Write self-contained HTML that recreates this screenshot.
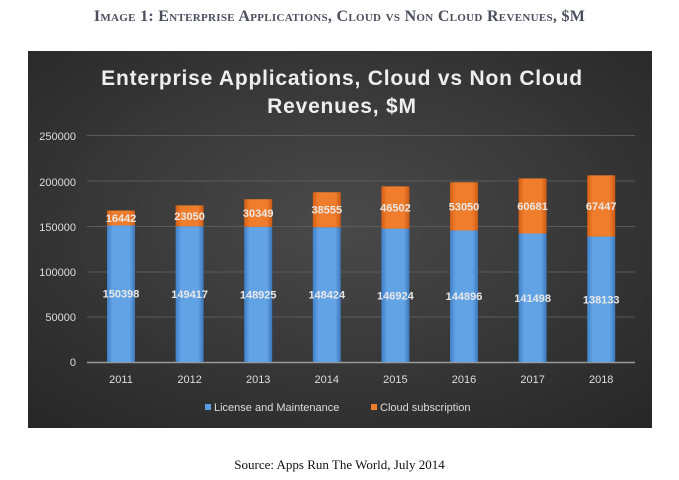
<!DOCTYPE html>
<html><head><style>
body{margin:0;width:679px;height:480px;background:#fff;position:relative;overflow:hidden;font-family:"Liberation Sans",sans-serif}
.hd{position:absolute;top:8px;left:0;width:679px;text-align:center;font-family:"Liberation Serif",serif;font-weight:bold;font-size:16px;color:#4b4f5e;font-variant:small-caps;letter-spacing:0.3px}
.src{position:absolute;top:457px;left:0;width:679px;text-align:center;font-family:"Liberation Serif",serif;font-size:13px;color:#111}
</style></head><body>
<div class="hd">Image 1: Enterprise Applications, Cloud vs Non Cloud Revenues, $M</div>
<svg style="position:absolute;left:0;top:0" width="679" height="480">
<defs>
<radialGradient id="bg" cx="0.5" cy="0.45" r="0.75">
<stop offset="0" stop-color="#4a4a4a"/><stop offset="1" stop-color="#262626"/></radialGradient>
<linearGradient id="bl" x1="0" x2="1"><stop offset="0" stop-color="#3f7fc6"/><stop offset="0.2" stop-color="#62a3e6"/><stop offset="0.8" stop-color="#62a3e6"/><stop offset="1" stop-color="#3c78bb"/></linearGradient>
<linearGradient id="or" x1="0" x2="1"><stop offset="0" stop-color="#d45f14"/><stop offset="0.2" stop-color="#f07d2c"/><stop offset="0.8" stop-color="#f07d2c"/><stop offset="1" stop-color="#cc5a12"/></linearGradient>
</defs>
<rect x="28" y="51" width="624" height="377" fill="url(#bg)"/>
<g font-family="Liberation Sans,sans-serif" font-weight="bold" font-size="21" fill="#eee" text-anchor="middle" letter-spacing="0.8">
<text x="342" y="85">Enterprise Applications, Cloud vs Non Cloud</text>
<text x="342" y="113">Revenues, $M</text></g>
<g stroke="#5a5a5a" stroke-width="1">
<line x1="87" x2="635" y1="135.5" y2="135.5"/><line x1="87" x2="635" y1="181" y2="181"/><line x1="87" x2="635" y1="226.5" y2="226.5"/><line x1="87" x2="635" y1="272" y2="272"/><line x1="87" x2="635" y1="317" y2="317"/></g>
<line x1="87" x2="635" y1="362.5" y2="362.5" stroke="#999" stroke-width="1.5"/>
<g font-size="11" fill="#ddd" text-anchor="end">
<text x="76" y="140">250000</text><text x="76" y="186">200000</text><text x="76" y="231">150000</text><text x="76" y="276">100000</text><text x="76" y="321">50000</text><text x="76" y="366">0</text></g>
<g id="bars"></g>
<g font-size="11" fill="#ddd">
<rect x="205" y="404" width="6" height="6" fill="#5a9de0"/><text x="214" y="411">License and Maintenance</text>
<rect x="371" y="404" width="6" height="6" fill="#f07d2c"/><text x="380" y="411">Cloud subscription</text></g>
</svg>
<div class="src">Source: Apps Run The World, July 2014</div>
<script>
var L=[150398,149417,148925,148424,146924,144896,141498,138133],C=[16442,23050,30349,38555,46502,53050,60681,67447];
var s='',k=227/250000;
for(var i=0;i<8;i++){var cx=121+i*68.6,x=cx-14,yb=362-L[i]*k,yt=yb-C[i]*k;
s+='<rect x="'+x+'" y="'+yb+'" width="28" height="'+(362-yb)+'" fill="url(#bl)"/>';
s+='<rect x="'+x+'" y="'+yt+'" width="28" height="'+(yb-yt)+'" fill="url(#or)"/>';
s+='<text x="'+cx+'" y="'+(yb+(362-yb)/2+4)+'" text-anchor="middle" font-size="11" font-weight="bold" fill="#e8e8e8">'+L[i]+'</text>';
s+='<text x="'+cx+'" y="'+(yt+(yb-yt)/2+4)+'" text-anchor="middle" font-size="11" font-weight="bold" fill="#e8e8e8">'+C[i]+'</text>';
s+='<text x="'+cx+'" y="383" text-anchor="middle" font-size="11" fill="#ddd">'+(2011+i)+'</text>';}
document.getElementById('bars').innerHTML=s;
</script>
</body></html>
